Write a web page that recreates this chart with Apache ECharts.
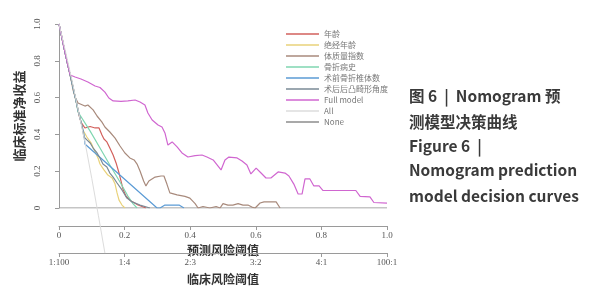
<!DOCTYPE html>
<html>
<head>
<meta charset="utf-8">
<script src="https://cdn.jsdelivr.net/npm/echarts@6/dist/echarts.min.js"></script>
<style>
  html, body { margin: 0; padding: 0; background: #fff; }
  #main { width: 595px; height: 300px; }
</style>
</head>
<body>
<div id="main"></div>
<script>
// tick labels
var predTicks = ['0', '0.2', '0.4', '0.6', '0.8', '1.0'];
var clinTicks = ['1:100', '1:4', '2:3', '3:2', '4:1', '100:1'];
var netTicks = ['0', '0.2', '0.4', '0.6', '0.8', '1.0'];

var names = ['年龄', '绝经年龄', '体质量指数', '骨折病史', '术前骨折椎体数', '术后后凸畸形角度', 'Full model', 'All', 'None'];
var colors = ['#d2605c', '#e9d27a', '#a88a7c', '#7fd6b0', '#5b9bd5', '#7a8a96', '#d066d0', '#dcdcdc', '#8c8c8c'];

// shared steep start of every model curve [threshold, net benefit]
var headPts = [[0, 1.0], [0.009, 0.924], [0.018, 0.848], [0.027, 0.777], [0.034, 0.723]];

var agePts = [[0.040, 0.679], [0.046, 0.630], [0.052, 0.582], [0.061, 0.505], [0.067, 0.467], [0.079, 0.435],
    [0.095, 0.443], [0.110, 0.435], [0.122, 0.435], [0.131, 0.397], [0.137, 0.375], [0.146, 0.359], [0.155, 0.326],
    [0.165, 0.288], [0.174, 0.245], [0.183, 0.190], [0.189, 0.147], [0.195, 0.103], [0.204, 0.065], [0.220, 0.038],
    [0.241, 0.016], [0.265, 0]];

var menoPts = [[0.040, 0.679], [0.046, 0.630], [0.052, 0.582], [0.058, 0.533], [0.064, 0.489], [0.070, 0.446],
    [0.073, 0.424], [0.085, 0.386], [0.098, 0.353], [0.110, 0.304], [0.119, 0.272], [0.125, 0.239], [0.137, 0.207],
    [0.149, 0.179], [0.162, 0.163], [0.171, 0.130], [0.177, 0.082], [0.183, 0.043], [0.192, 0.016], [0.201, 0]];

var bmiPts = [[0.043, 0.641], [0.049, 0.603], [0.058, 0.571], [0.079, 0.554], [0.088, 0.560], [0.104, 0.533],
    [0.116, 0.500], [0.131, 0.467], [0.140, 0.440], [0.155, 0.413], [0.171, 0.380], [0.186, 0.337], [0.201, 0.299],
    [0.216, 0.272], [0.229, 0.261], [0.238, 0.239], [0.247, 0.201], [0.258, 0.147], [0.265, 0.120], [0.274, 0.147],
    [0.293, 0.168], [0.311, 0.174], [0.320, 0.174], [0.329, 0.130], [0.338, 0.082], [0.360, 0.071], [0.384, 0.063],
    [0.399, 0.054], [0.415, 0.024], [0.424, 0], [0.439, 0.008], [0.460, 0], [0.479, 0.008], [0.491, 0],
    [0.500, 0.024], [0.515, 0.016], [0.530, 0.016], [0.546, 0.024], [0.561, 0.016], [0.576, 0.016], [0.588, 0.005],
    [0.598, 0], [0.613, 0.027], [0.625, 0.033], [0.662, 0.033], [0.674, 0]];

var histPts = [[0.040, 0.679], [0.046, 0.630], [0.052, 0.582], [0.058, 0.522], [0.095, 0.418], [0.125, 0.326],
    [0.155, 0.234], [0.186, 0.141], [0.210, 0.065], [0.226, 0.022], [0.238, 0]];

var preopPts = [[0.040, 0.679], [0.046, 0.630], [0.052, 0.582], [0.058, 0.533], [0.064, 0.489], [0.070, 0.446],
    [0.076, 0.402], [0.079, 0.348], [0.299, 0], [0.308, 0], [0.323, 0.016], [0.366, 0.016], [0.381, 0]];

var postopPts = [[0.040, 0.679], [0.046, 0.630], [0.052, 0.582], [0.058, 0.533], [0.064, 0.489], [0.070, 0.446],
    [0.076, 0.386], [0.085, 0.370], [0.095, 0.353], [0.104, 0.326], [0.116, 0.299], [0.125, 0.272], [0.134, 0.239],
    [0.146, 0.223], [0.155, 0.190], [0.165, 0.168], [0.177, 0.136], [0.192, 0.098], [0.207, 0.054], [0.223, 0.033],
    [0.247, 0.016], [0.277, 0]];

var fullPts = [[0.049, 0.712], [0.067, 0.701], [0.088, 0.685], [0.110, 0.663], [0.125, 0.655], [0.140, 0.630],
    [0.152, 0.598], [0.165, 0.582], [0.189, 0.579], [0.210, 0.582], [0.232, 0.587], [0.247, 0.576], [0.262, 0.560],
    [0.271, 0.516], [0.284, 0.478], [0.302, 0.451], [0.314, 0.440], [0.323, 0.408], [0.332, 0.342], [0.345, 0.359],
    [0.360, 0.332], [0.375, 0.299], [0.393, 0.277], [0.415, 0.285], [0.436, 0.288], [0.451, 0.277], [0.470, 0.261],
    [0.485, 0.228], [0.494, 0.207], [0.506, 0.261], [0.518, 0.277], [0.543, 0.272], [0.558, 0.255], [0.573, 0.234],
    [0.585, 0.185], [0.601, 0.217], [0.616, 0.190], [0.631, 0.163], [0.646, 0.163], [0.668, 0.196], [0.689, 0.190],
    [0.701, 0.174], [0.716, 0.130], [0.729, 0.076], [0.741, 0.076], [0.750, 0.158], [0.765, 0.158], [0.777, 0.120],
    [0.793, 0.120], [0.805, 0.095], [0.905, 0.095], [0.918, 0.063], [0.948, 0.060], [0.960, 0.030], [1.0, 0.027]];

var allPts = [[0, 1.0], [0.02, 0.85], [0.04, 0.69], [0.06, 0.52], [0.079, 0.36], [0.10, 0.16], [0.12, -0.04], [0.14, -0.245]];
var nonePts = [[0, 0], [1, 0]];

window.onload = function () {
    var chart = echarts.init(document.getElementById('main'), null, { renderer: 'canvas' })

    var curves = [
        headPts.concat(agePts),
        headPts.concat(menoPts),
        headPts.concat(bmiPts),
        headPts.concat(histPts),
        headPts.concat(preopPts),
        headPts.concat(postopPts),
        headPts.concat(fullPts),
        allPts,
        nonePts
    ]

    var series = curves.map(function (pts, i) {
        return {
            name: names[i],
            type: 'line',
            data: pts,
            symbol: 'none',
            clip: names[i] !== 'All',
            lineStyle: { color: colors[i], width: names[i] === 'All' ? 1 : 1.2 },
            itemStyle: { color: colors[i] },
            z: i === 8 ? 1 : 2
        }
    })

    var axisColor = '#9a9a9a'
    var labelFont = { fontFamily: 'Liberation Serif', fontSize: 9, color: '#555' }
    var titleFont = { fontFamily: 'Noto Sans CJK SC', fontWeight: 'bold', fontSize: 12, color: '#333' }

    function bottomAxis(ticks, offset, name, gap) {
        return {
            type: 'value', min: 0, max: 1, interval: 0.2,
            position: 'bottom', offset: offset,
            axisLine: { show: true, onZero: false, lineStyle: { color: axisColor, width: 1 } },
            axisTick: { length: 4, lineStyle: { color: axisColor } },
            axisLabel: Object.assign({ margin: 5, formatter: function (v) { return ticks[Math.round(v / 0.2)] } }, labelFont),
            splitLine: { show: false },
            name: name, nameLocation: 'middle', nameGap: gap,
            nameTextStyle: titleFont
        }
    }

    // right-hand caption
    var captionLines = ['图 6  |  Nomogram 预', '测模型决策曲线', 'Figure 6  |', 'Nomogram prediction', 'model decision curves']
    var captionTops = [88, 114, 138, 162, 188]
    var caption = captionLines.map(function (t, i) {
        return {
            type: 'text', left: 409, top: captionTops[i],
            style: { text: t, fontFamily: 'Noto Sans CJK SC', fontWeight: 'bold', fontSize: 15.5, fill: '#3a3a3a' }
        }
    })

    var option = {
        animation: false,
        backgroundColor: '#fff',
        grid: { left: 59, right: 208, top: 24, bottom: 92 },
        legend: {
            orient: 'vertical',
            left: 281, top: 25,
            icon: 'rect',
            itemWidth: 33, itemHeight: 1.5,
            itemGap: 3,
            textStyle: { fontFamily: 'Noto Sans CJK SC', fontSize: 8, lineHeight: 8, color: '#777', padding: [0, 0, 0, 0] },
            data: names
        },
        xAxis: [
            bottomAxis(predTicks, 18, '预测风险阈值', 17),
            bottomAxis(clinTicks, 45, '临床风险阈值', 20)
        ],
        yAxis: {
            type: 'value', min: 0, max: 1, interval: 0.2,
            offset: 13,
            axisLine: { show: true, lineStyle: { color: axisColor, width: 1 } },
            axisTick: { show: true, length: 4, lineStyle: { color: axisColor } },
            axisLabel: Object.assign({ rotate: 90, margin: 4, formatter: function (v) { return netTicks[Math.round(v / 0.2)] } }, labelFont),
            splitLine: { show: false },
            name: '临床标准净收益', nameLocation: 'middle', nameGap: 19,
            nameTextStyle: { fontFamily: 'Noto Sans CJK SC', fontWeight: 'bold', fontSize: 13, color: '#333' }
        },
        graphic: caption,
        series: series
    }

    chart.setOption(option)
}
</script>
</body>
</html>
